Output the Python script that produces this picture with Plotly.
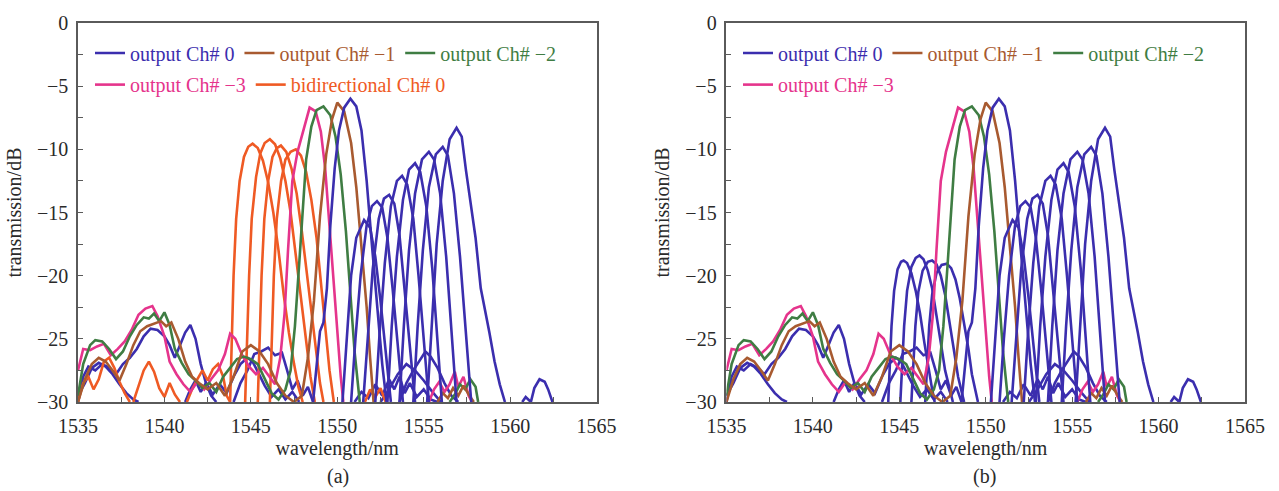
import plotly.graph_objects as go
from plotly.subplots import make_subplots

# ---------------- data ----------------
x_ticks = [1535, 1540, 1545, 1550, 1555, 1560, 1565]
y_ticks = [0, -5, -10, -15, -20, -25, -30]

# output Ch# -3 (pink)
pink_x = [1535.0, 1535.3, 1535.7, 1536.1, 1536.5, 1536.9, 1537.3, 1537.7, 1538.1, 1538.5, 1538.9, 1539.3,
          1539.6, 1540.0, 1540.3, 1540.7, 1541.1, 1541.5, 1541.9, 1542.3, 1542.7, 1543.1, 1543.5, 1543.8,
          1544.1, 1544.5, 1544.9, 1545.3, 1545.7, 1546.1, 1546.4, 1546.7, 1546.95, 1547.15, 1547.4, 1547.7,
          1548.0, 1548.4, 1548.75, 1549.05, 1549.3, 1549.55, 1549.8, 1550.0, 1550.2, 1550.35,
          None, 1555.3, 1555.6, 1555.9, 1556.2, 1556.5, 1556.8, 1557.0, 1557.3, 1557.6, 1557.8]
pink_y = [-27.5, -25.8, -25.9, -25.6, -25.4, -26.3, -25.8, -25.2, -24.3, -23.1, -22.6, -22.4,
          -23.2, -24.8, -26.8, -27.8, -28.6, -29.2, -28.4, -29.0, -28.2, -27.5, -26.2, -24.6,
          -25.0, -26.3, -27.2, -27.8, -27.3, -28.0, -28.6, -26.5, -23.0, -18.0, -12.5, -10.2,
          -8.6, -6.7, -7.0, -8.6, -11.5, -16.0, -20.5, -24.5, -28.0, -30.0,
          None, -30.0, -29.0, -28.4, -29.2, -28.6, -27.6, -28.8, -28.0, -29.5, -30.0]

# output Ch# -2 (green)
green_x = [1535.0, 1535.3, 1535.7, 1536.0, 1536.4, 1536.8, 1537.2, 1537.6, 1538.0, 1538.4, 1538.8, 1539.1,
           1539.4, 1539.7, 1540.0, 1540.3, 1540.6, 1541.0, 1541.4, 1541.8, 1542.2, 1542.6, 1543.0, 1543.4,
           1543.8, 1544.2, 1544.6, 1545.0, 1545.4, 1545.8, 1546.2, 1546.6, 1547.0, 1547.3, 1547.55, 1547.8,
           1548.0, 1548.2, 1548.5, 1548.8, 1549.2, 1549.6, 1549.9, 1550.2, 1550.5, 1550.8, 1551.0, 1551.3,
           None, 1556.5, 1556.8, 1557.1, 1557.4, 1557.7, 1558.0, 1558.15]
green_y = [-29.5, -27.0, -25.5, -25.1, -25.2, -25.8, -26.6, -26.0, -24.8, -23.9, -23.3, -23.4,
           -23.0, -23.6, -22.9, -23.9, -25.8, -26.9, -27.8, -28.3, -28.9, -28.5, -29.2, -28.0,
           -27.3, -26.6, -26.4, -26.6, -27.0, -28.2, -29.3, -29.8, -29.0, -27.5, -24.0, -19.0,
           -14.5, -10.8, -8.2, -6.9, -6.6, -7.3, -9.0, -12.0, -16.5, -22.0, -26.0, -30.0,
           None, -30.0, -29.4, -28.6, -29.0, -28.2, -28.8, -30.0]

# output Ch# -1 (brown)
brown_x = [1535.0, 1535.4, 1535.8, 1536.2, 1536.6, 1537.0, 1537.4, 1537.8, 1538.2, 1538.6, 1539.0, 1539.4,
           1539.8, 1540.1, 1540.4, 1540.8, 1541.2, 1541.6, 1542.0, 1542.5, 1543.0, 1543.5, 1544.0, 1544.5,
           1545.0, 1545.5, 1546.0, 1546.5, 1547.0, 1547.5, 1547.95, 1548.3, 1548.65, 1549.0, 1549.36, 1549.7,
           1550.0, 1550.4, 1550.8, 1551.1, 1551.4, 1551.7, 1551.9, 1552.1,
           None, 1555.8, 1556.1, 1556.4, 1556.7, 1557.0, 1557.3, 1557.6, 1557.9]
brown_y = [-30.0, -28.2, -27.0, -26.5, -26.8, -27.5, -28.3, -27.0, -25.5, -24.4, -24.0, -23.8,
           -23.6, -24.0, -23.7, -25.0, -26.8, -28.0, -28.5, -29.0, -28.5, -29.5, -28.0, -26.0,
           -25.5, -26.0, -27.0, -28.5, -29.5, -30.0, -29.5, -26.5, -22.0, -15.3, -10.4, -7.6,
           -6.3, -7.0, -9.5, -13.0, -17.5, -22.5, -26.5, -30.0,
           None, -30.0, -29.3, -29.7, -28.9, -29.5, -28.7, -29.4, -30.0]

# output Ch# 0 (blue) - main channel
blue_main_x = [1548.6, 1548.8, 1549.0, 1549.2, 1549.4, 1549.6, 1549.85, 1550.1, 1550.4, 1550.76,
               1551.1, 1551.4, 1551.7, 1552.0, 1552.3, 1552.6, 1552.85]
blue_main_y = [-30.0, -27.0, -24.4, -23.7, -21.0, -16.0, -11.5, -8.5, -6.7, -6.0,
               -6.6, -8.5, -12.5, -17.5, -22.5, -27.0, -30.0]

# output Ch# 0 (blue) - channels on the long-wavelength side
blue_r_x = [
    [1550.3, 1550.55, 1550.8, 1551.1, 1551.55, 1551.9, 1552.2, 1552.5, 1552.8, 1553.1],
    [1550.8, 1551.05, 1551.35, 1551.7, 1552.0, 1552.3, 1552.6, 1552.9, 1553.2, 1553.5, 1553.8],
    [1551.5, 1551.75, 1552.05, 1552.4, 1552.7, 1553.0, 1553.3, 1553.6, 1553.9, 1554.2, 1554.5],
    [1552.2, 1552.45, 1552.75, 1553.1, 1553.45, 1553.75, 1554.05, 1554.4, 1554.7, 1555.0, 1555.3],
    [1552.9, 1553.15, 1553.45, 1553.8, 1554.15, 1554.5, 1554.8, 1555.15, 1555.5, 1555.8, 1556.05],
    [1553.6, 1553.85, 1554.15, 1554.5, 1554.9, 1555.3, 1555.6, 1555.95, 1556.3, 1556.6, 1556.9],
    [1554.4, 1554.65, 1554.95, 1555.3, 1555.7, 1556.1, 1556.4, 1556.75, 1557.1, 1557.4, 1557.75],
    [1555.2, 1555.45, 1555.75, 1556.1, 1556.5, 1556.9, 1557.2, 1557.45, 1557.75, 1558.0, 1558.3,
     1558.5, 1558.8, 1559.1, 1559.4, 1559.7, None, 1560.7, 1560.9, 1561.2, 1561.4, 1561.7, 1562.0,
     1562.2, 1562.45],
]
blue_r_y = [
    [-30.0, -25.0, -20.0, -17.0, -15.6, -16.2, -18.5, -22.0, -26.0, -30.0],
    [-30.0, -25.0, -20.0, -16.0, -14.5, -14.1, -14.6, -17.0, -21.0, -25.5, -30.0],
    [-30.0, -25.0, -19.5, -15.5, -13.9, -13.6, -14.3, -16.8, -21.0, -25.5, -30.0],
    [-30.0, -24.5, -19.0, -14.5, -12.5, -12.1, -12.8, -15.5, -20.0, -25.0, -30.0],
    [-30.0, -24.0, -18.5, -14.0, -11.6, -11.1, -11.8, -14.5, -19.5, -25.0, -30.0],
    [-30.0, -24.0, -18.0, -13.5, -10.8, -10.2, -10.8, -13.5, -18.5, -24.0, -30.0],
    [-30.0, -24.0, -18.0, -13.0, -10.4, -9.8, -10.5, -13.5, -18.5, -24.0, -30.0],
    [-30.0, -24.0, -17.5, -12.5, -9.2, -8.3, -9.0, -11.7, -14.5, -17.0, -21.0,
     -22.3, -24.5, -26.8, -28.6, -30.0, None, -30.0, -29.6, -30.0, -28.9, -28.2, -28.4,
     -29.0, -30.0],
]

# output Ch# 0 (blue) - low-level crosstalk / noise floor
blue_noise_x = [
    [1535.0, 1535.3, 1535.6, 1536.0, 1536.4, 1536.8, 1537.2, 1537.6, 1538.0, 1538.4, 1538.8, 1539.2,
     1539.6, 1540.0, 1540.3, 1540.6, 1540.9, 1541.2, 1541.5, 1541.8, 1542.1, 1542.4, 1542.7, 1543.0],
    [1535.0, 1535.4, 1535.8, 1536.2, 1536.6, 1537.0, 1537.4, 1537.8, 1538.2, 1538.5],
    [1541.2, 1541.5, 1541.8, 1542.1, 1542.4, 1542.8, 1543.2, 1543.6, 1544.0, 1544.4, 1544.8, 1545.1,
     1545.4, 1545.8, 1546.2, 1546.6, 1547.0, 1547.4, 1547.8],
    [1544.0, 1544.4, 1544.8, 1545.2, 1545.6, 1546.0, 1546.4, 1546.8, 1547.1, 1547.4, 1547.7, 1548.0,
     1548.3, 1548.6],
    [1551.0, 1551.4, 1551.8, 1552.2, 1552.6, 1553.0, 1553.3, 1553.6, 1553.9, 1554.2, 1554.6, 1555.0,
     1555.4, 1555.8],
    [1553.6, 1554.0, 1554.4, 1554.8, 1555.1, 1555.4, 1555.8, 1556.2, 1556.6, 1557.0],
    [1552.5, 1553.0, 1553.5, 1554.0, 1554.5, 1555.0, 1555.5, 1556.0],
]
blue_noise_y = [
    [-30.0, -28.0, -27.2, -27.5, -27.0, -27.3, -27.8, -27.0, -26.5, -25.8, -24.8, -24.2,
     -24.3, -24.8, -25.5, -26.5, -25.5, -24.5, -23.9, -25.0, -27.0, -28.5, -29.5, -30.0],
    [-29.5, -28.5, -27.3, -26.9, -27.2, -27.8, -28.6, -29.3, -29.8, -30.0],
    [-30.0, -29.0, -28.3, -29.2, -28.5, -29.4, -28.6, -29.3, -28.0, -27.0, -26.5, -26.8,
     -27.6, -28.7, -29.6, -29.0, -29.8, -29.2, -30.0],
    [-30.0, -28.5, -27.5, -26.2, -26.0, -25.7, -26.3, -26.1, -27.5, -29.0, -28.3, -29.5,
     -28.8, -30.0],
    [-30.0, -29.2, -29.7, -28.6, -29.5, -28.2, -29.0, -28.0, -29.3, -28.5, -29.6, -29.0,
     -29.8, -30.0],
    [-30.0, -28.5, -27.5, -26.7, -26.0, -26.4, -27.3, -28.5, -29.5, -30.0],
    [-30.0, -29.0, -27.8, -27.0, -27.5, -28.3, -29.2, -30.0],
]

# bidirectional Ch# 0 (orange) - panel (a) only
orange_x = [
    [1535.0, 1535.3, 1535.6, 1535.9, 1536.2, 1536.5, 1536.8, 1537.1, 1537.4, 1537.7, 1538.0, None,
     1538.2, 1538.5, 1538.8, 1539.1, 1539.4, 1539.7, 1540.0, 1540.3, 1540.6, 1540.9, None,
     1541.3, 1541.6, 1541.9, 1542.2, 1542.5, 1542.8, 1543.1, 1543.4, 1543.6, 1543.8,
     1543.9, 1544.0, 1544.15, 1544.35, 1544.6, 1544.85, 1545.1, 1545.4, 1545.7, 1546.0, 1546.3,
     1546.6, 1546.9, 1547.2, 1547.5, 1547.75, 1548.0],
    [1544.67, 1544.77, 1544.9, 1545.05, 1545.3, 1545.55, 1545.8, 1546.1, 1546.4, 1546.7, 1547.0,
     1547.3, 1547.6, 1547.9, 1548.2, 1548.45, 1548.7],
    [1545.4, 1545.5, 1545.62, 1545.78, 1546.0, 1546.25, 1546.5, 1546.74, 1547.05, 1547.35, 1547.65,
     1547.95, 1548.25, 1548.55, 1548.8, 1549.0, 1549.2],
    [1546.1, 1546.2, 1546.33, 1546.5, 1546.75, 1547.0, 1547.3, 1547.6, 1547.9, 1548.2, 1548.5,
     1548.8, 1549.05, 1549.3, 1549.55, 1549.8, None, 1551.6, 1551.9, 1552.2, 1552.5, 1552.8],
]
orange_y = [
    [-30.0, -28.5, -28.0, -29.0, -28.2, -26.8, -26.5, -27.3, -28.4, -29.3, -30.0, None,
     -30.0, -28.8, -27.5, -26.8, -27.6, -28.9, -29.6, -28.5, -29.4, -30.0, None,
     -30.0, -29.0, -28.2, -27.5, -28.3, -27.4, -27.0, -28.0, -29.5, -30.0,
     -25.0, -20.0, -15.5, -12.5, -10.6, -9.8, -9.55, -9.9, -10.9, -12.6, -15.0,
     -18.0, -21.5, -24.5, -27.0, -28.8, -30.0],
    [-30.0, -25.0, -20.0, -15.5, -12.2, -10.3, -9.5, -9.2, -9.6, -10.7, -12.5,
     -15.0, -18.5, -22.0, -25.5, -28.0, -30.0],
    [-30.0, -25.0, -20.0, -15.5, -12.5, -10.6, -9.9, -9.7, -10.2, -11.5, -13.5,
     -16.5, -20.0, -23.5, -26.5, -28.5, -30.0],
    [-30.0, -25.0, -20.0, -15.5, -12.5, -10.8, -10.2, -10.0, -10.5, -11.8, -14.0,
     -17.0, -20.5, -24.0, -27.5, -30.0, None, -30.0, -29.0, -29.6, -28.9, -30.0],
]

# output Ch# 0 (blue) - panel (b) only, channels replacing the bidirectional ones
blue_low_x = [
    [1544.36, 1544.45, 1544.55, 1544.7, 1544.9, 1545.1, 1545.25, 1545.45, 1545.7, 1545.95, 1546.2,
     1546.45, 1546.7, 1546.9, 1547.05],
    [1545.06, 1545.15, 1545.28, 1545.45, 1545.7, 1545.95, 1546.17, 1546.4, 1546.65, 1546.9, 1547.15,
     1547.4, 1547.65, 1547.9, 1548.1],
    [1545.7, 1545.8, 1545.93, 1546.1, 1546.35, 1546.65, 1546.9, 1547.15, 1547.4, 1547.65, 1547.9,
     1548.15, 1548.4, 1548.6, 1548.75],
    [1546.5, 1546.6, 1546.73, 1546.9, 1547.15, 1547.45, 1547.75, 1548.0, 1548.25, 1548.5, 1548.75,
     1549.0, 1549.2, 1549.4, 1549.55],
]
blue_low_y = [
    [-30.0, -27.0, -24.0, -21.2, -19.5, -18.9, -18.8, -19.0, -19.8, -21.2, -23.0,
     -25.3, -27.5, -29.0, -30.0],
    [-30.0, -27.0, -24.0, -21.2, -19.3, -18.6, -18.4, -18.7, -19.6, -21.0, -23.0,
     -25.3, -27.5, -29.0, -30.0],
    [-30.0, -27.0, -24.0, -21.3, -19.6, -18.9, -18.8, -19.1, -20.0, -21.5, -23.5,
     -25.8, -28.0, -29.3, -30.0],
    [-30.0, -27.0, -24.0, -21.5, -19.8, -19.15, -19.05, -19.4, -20.3, -21.8, -23.7,
     -25.8, -27.8, -29.2, -30.0],
]

# ---------------- style ----------------
C_BLUE = "#3b2eae"
C_BROWN = "#a85a30"
C_GREEN = "#3f7d43"
C_PINK = "#e5348c"
C_ORANGE = "#ef5a24"
FONT = "Liberation Serif, Times New Roman, serif"
LW = 2.6


def lbl(text, color):
    return '<span style="color:%s">%s</span>' % (color, text)


fig = make_subplots(rows=1, cols=2, horizontal_spacing=0.1113)


def add(x, y, color, col, name=None, legend=None):
    fig.add_trace(go.Scatter(x=x, y=y, mode="lines", line=dict(color=color, width=LW),
                             name=name if name else "", showlegend=name is not None,
                             legend=legend, hoverinfo="skip", connectgaps=False),
                  row=1, col=col)


for col in (1, 2):
    lg1 = "legend" if col == 1 else "legend3"
    lg2 = "legend2" if col == 1 else "legend4"
    # noise floor first
    for xs, ys in zip(blue_noise_x, blue_noise_y):
        add(xs, ys, C_BLUE, col)
    if col == 1:
        for xs, ys in zip(orange_x, orange_y):
            add(xs, ys, C_ORANGE, col)
    else:
        for xs, ys in zip(blue_low_x, blue_low_y):
            add(xs, ys, C_BLUE, col)
    add(pink_x, pink_y, C_PINK, col)
    add(green_x, green_y, C_GREEN, col)
    add(brown_x, brown_y, C_BROWN, col)
    for xs, ys in zip(blue_r_x, blue_r_y):
        add(xs, ys, C_BLUE, col)
    add(blue_main_x, blue_main_y, C_BLUE, col)

    # legend entries (empty traces that only carry the legend)
    add([None], [None], C_BLUE, col, lbl("output Ch# 0", C_BLUE), lg1)
    add([None], [None], C_BROWN, col, lbl("output Ch# \u22121", C_BROWN), lg1)
    add([None], [None], C_GREEN, col, lbl("output Ch# \u22122", C_GREEN), lg1)
    add([None], [None], C_PINK, col, lbl("output Ch# \u22123", C_PINK), lg2)
    if col == 1:
        add([None], [None], C_ORANGE, col, lbl("bidirectional Ch# 0", C_ORANGE), lg2)

axis_common = dict(showline=True, linecolor="#5a5a5a", linewidth=1.6, mirror=True,
                   ticks="inside", ticklen=5, tickcolor="#5a5a5a", tickwidth=1.2,
                   showgrid=False, zeroline=False,
                   tickfont=dict(family=FONT, size=20, color="#2a2a2a"),
                   minor=dict(ticks="inside", ticklen=5, tickcolor="#5a5a5a", dtick=2.5))

for col in (1, 2):
    fig.update_xaxes(range=[1535, 1565], tickvals=x_ticks, ticklabelstandoff=5,
                     title=dict(text="wavelength/nm", font=dict(family=FONT, size=20, color="#2a2a2a"),
                                standoff=2),
                     row=1, col=col, **axis_common)
    fig.update_yaxes(range=[-30, 0], tickvals=y_ticks, ticklabelstandoff=4,
                     title=dict(text="transmission/dB", font=dict(family=FONT, size=20, color="#2a2a2a"),
                                standoff=10),
                     row=1, col=col, **axis_common)

leg_common = dict(orientation="h", font=dict(family=FONT, size=20), bgcolor="rgba(0,0,0,0)",
                  xanchor="left", yanchor="middle", itemwidth=30, tracegroupgap=0,
                  itemclick=False, itemdoubleclick=False)
ax_w = 1167.0
ax_h = 384.5


def px2x(px):
    return (px - 78) / ax_w


def py2y(py):
    return 1 - (py - 17.5) / ax_h


fig.update_layout(
    width=1279, height=491,
    margin=dict(l=78, r=34, t=17.5, b=89),
    paper_bgcolor="white", plot_bgcolor="white",
    font=dict(family=FONT, size=20, color="#2a2a2a"),
    legend=dict(x=px2x(90), y=py2y(48), **leg_common),
    legend2=dict(x=px2x(90), y=py2y(80), **leg_common),
    legend3=dict(x=px2x(738), y=py2y(48), **leg_common),
    legend4=dict(x=px2x(738), y=py2y(80), **leg_common),
    annotations=[
        dict(text="(a)", x=px2x(338), y=py2y(478), xref="paper", yref="paper", showarrow=False,
             xanchor="center", yanchor="middle",
             font=dict(family=FONT, size=20, color="#2a2a2a")),
        dict(text="(b)", x=px2x(985), y=py2y(478), xref="paper", yref="paper", showarrow=False,
             xanchor="center", yanchor="middle",
             font=dict(family=FONT, size=20, color="#2a2a2a")),
    ],
)

fig.write_html("out.html")
